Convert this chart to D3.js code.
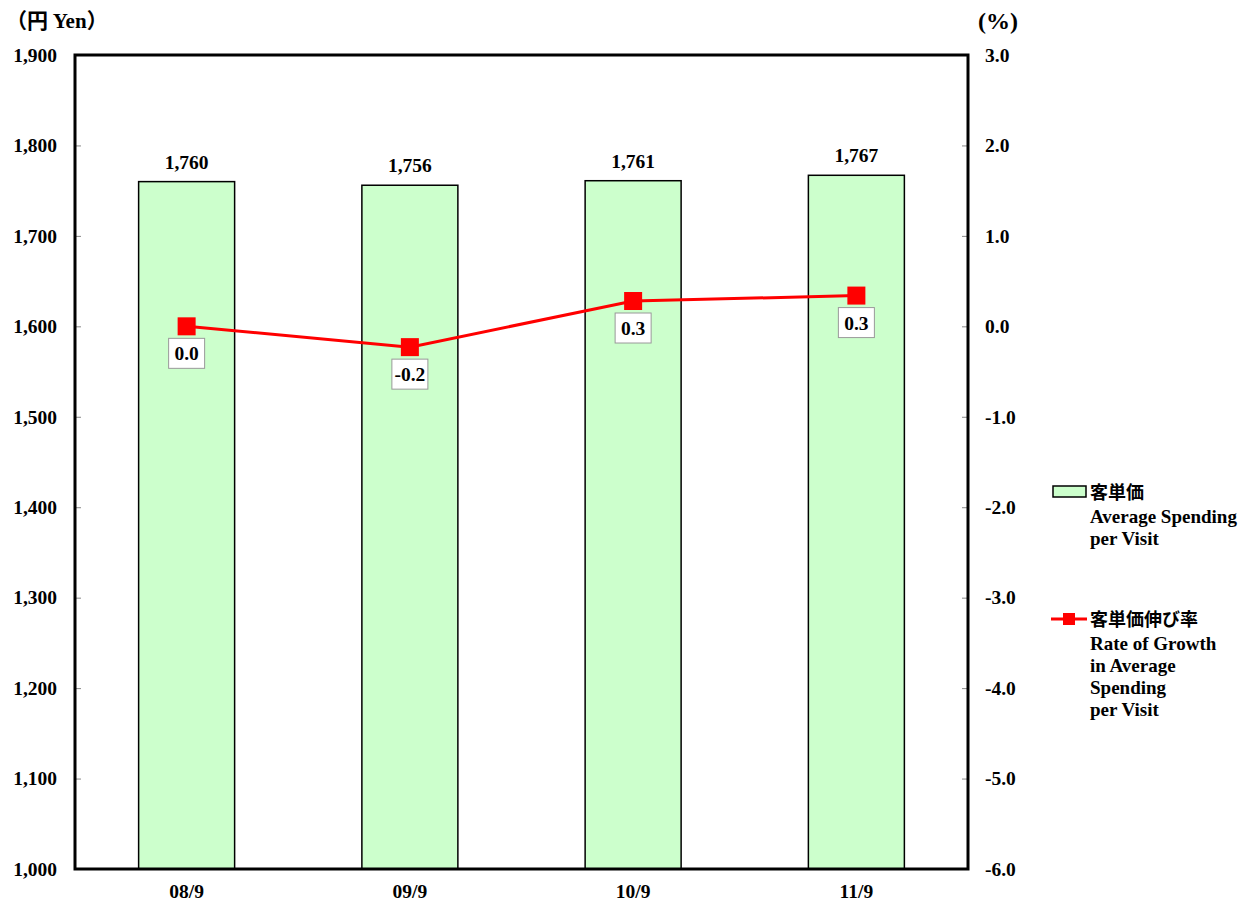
<!DOCTYPE html>
<html><head><meta charset="utf-8">
<script src="https://cdn.jsdelivr.net/npm/d3@7"></script>
<style>
body{margin:0;background:#fff;}
text{font-family:"Liberation Serif","DejaVu Serif",serif;font-weight:bold;fill:#000;}
.jp{font-family:"Noto Sans CJK JP",sans-serif;font-weight:bold;}
</style></head>
<body><svg id="c" width="1252" height="908"></svg>
<script>
const categories = ["08/9","09/9","10/9","11/9"];
const spending = [1760,1756,1761,1767];
const growth = [0.0,-0.23,0.28,0.34];
const leftTicks = [1000,1100,1200,1300,1400,1500,1600,1700,1800,1900];
const rightTicks = [-6,-5,-4,-3,-2,-1,0,1,2,3];

const svg = d3.select("#c");
const L=75,R=968,T=55,B=869;
const x = d3.scaleBand().domain(categories).range([L,R]).paddingInner(0.57).paddingOuter(0.285);
const yL = d3.scaleLinear().domain([1000,1900]).range([B,T]);
const yR = d3.scaleLinear().domain([-6,3]).range([B,T]);
const fmt1 = d=>d3.format(".1f")(d).replace("−","-");
const FS = 19.5;

// bars
svg.selectAll("rect.bar").data(spending).enter().append("rect")
  .attr("x",(d,i)=>x(categories[i])).attr("width",x.bandwidth())
  .attr("y",d=>yL(d)).attr("height",d=>B-yL(d))
  .attr("fill","#ccffcc").attr("stroke","#000").attr("stroke-width",1.5);
svg.selectAll("text.bl").data(spending).enter().append("text")
  .attr("x",(d,i)=>x(categories[i])+x.bandwidth()/2).attr("y",d=>yL(d)-13)
  .attr("text-anchor","middle").attr("font-size",FS).text(d3.format(",")) ;

// axes
const la = d3.axisLeft(yL).tickValues(leftTicks).tickFormat(d3.format(",")).tickSize(-6).tickPadding(18);
const gl = svg.append("g").attr("transform",`translate(${L},0)`).call(la);
const ra = d3.axisRight(yR).tickValues(rightTicks).tickFormat(fmt1).tickSize(-6).tickPadding(17);
const gr = svg.append("g").attr("transform",`translate(${R},0)`).call(ra);
const xa = d3.axisBottom(x).tickSize(0).tickPadding(15);
const gx = svg.append("g").attr("transform",`translate(0,${B})`).call(xa);
[gl,gr,gx].forEach(g=>{
  g.select(".domain").remove();
  g.selectAll(".tick line").attr("stroke","#888").attr("stroke-width",1);
  g.selectAll(".tick text").attr("font-size",FS).attr("font-family","Liberation Serif").attr("font-weight","bold").attr("fill","#000");
});
// frame
svg.append("rect").attr("x",L).attr("y",T).attr("width",R-L).attr("height",B-T)
  .attr("fill","none").attr("stroke","#000").attr("stroke-width",3);

// line
const cx = (d,i)=>x(categories[i])+x.bandwidth()/2;
svg.append("path").datum(growth)
  .attr("d",d3.line().x(cx).y(d=>yR(d)))
  .attr("fill","none").attr("stroke","#ff0000").attr("stroke-width",3);
svg.selectAll("rect.pt").data(growth).enter().append("rect")
  .attr("x",(d,i)=>cx(d,i)-9).attr("y",d=>yR(d)-9).attr("width",18).attr("height",18)
  .attr("fill","#ff0000");
const lg = svg.selectAll("g.pl").data(growth).enter().append("g");
lg.append("rect").attr("x",(d,i)=>cx(d,i)-18).attr("y",d=>yR(d)+12).attr("width",36).attr("height",30)
  .attr("fill","#fff").attr("stroke","#999").attr("stroke-width",1);
lg.append("text").attr("x",(d,i)=>cx(d,i)).attr("y",d=>yR(d)+34).attr("text-anchor","middle")
  .attr("font-size",FS).text(fmt1);

// axis titles
const t1 = svg.append("text").attr("x",6).attr("y",28);
t1.append("tspan").attr("class","jp").attr("font-size",21).attr("font-weight","normal").text("（円 ");
t1.append("tspan").attr("font-size",21).text("Yen");
t1.append("tspan").attr("class","jp").attr("font-size",21).attr("font-weight","normal").text("）");
svg.append("text").attr("x",978).attr("y",29).attr("font-size",24).attr("font-weight","normal").text("(%)");

// legend
const LFS = 19;
svg.append("rect").attr("x",1053).attr("y",486).attr("width",33).attr("height",11)
  .attr("fill","#ccffcc").attr("stroke","#000").attr("stroke-width",1.5);
svg.append("text").attr("class","jp").attr("x",1090).attr("y",499).attr("font-size",18).text("客単価");
["Average Spending","per Visit"].forEach((s,i)=>svg.append("text").attr("x",1090).attr("y",523+i*22).attr("font-size",LFS).text(s));
svg.append("line").attr("x1",1051).attr("x2",1087).attr("y1",619).attr("y2",619).attr("stroke","#ff0000").attr("stroke-width",3);
svg.append("rect").attr("x",1063).attr("y",613).attr("width",12).attr("height",12).attr("fill","#ff0000");
svg.append("text").attr("class","jp").attr("x",1090).attr("y",626).attr("font-size",18).text("客単価伸び率");
["Rate of Growth","in Average","Spending","per Visit"].forEach((s,i)=>svg.append("text").attr("x",1090).attr("y",650+i*22).attr("font-size",LFS).text(s));
</script></body></html>
